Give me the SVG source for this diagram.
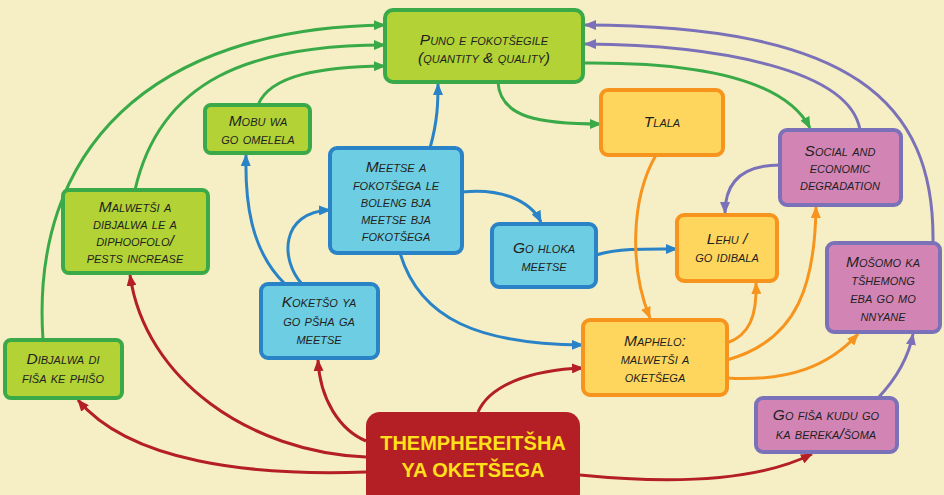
<svg xmlns="http://www.w3.org/2000/svg" width="944" height="495" viewBox="0 0 944 495">
<defs>
<style>
.t{font-family:"Liberation Sans",Arial,sans-serif;font-size:15.5px;font-variant:small-caps;fill:#231f20;text-anchor:middle;font-style:italic}
.g rect{fill:#b2d235;stroke:#3aaa48;stroke-width:4}
.b rect{fill:#6ccde3;stroke:#2a83c6;stroke-width:4}
.o rect{fill:#fed65e;stroke:#f7941d;stroke-width:4}
.p rect{fill:#d285b5;stroke:#7b71b8;stroke-width:4}
.c rect{fill:#b31f24}
.ct{font-family:"Liberation Sans",Arial,sans-serif;font-size:20px;font-weight:bold;fill:#ffe01a;text-anchor:middle}
.cg{fill:none;stroke:#3aaa48;stroke-width:3}
.cb{fill:none;stroke:#2a83c6;stroke-width:3}
.co{fill:none;stroke:#f7941d;stroke-width:3}
.cp{fill:none;stroke:#7b71b8;stroke-width:3}
.cr{fill:none;stroke:#b31f24;stroke-width:3}
</style>
<marker id="ag" viewBox="0 0 12 10" refX="11" refY="5" markerWidth="12" markerHeight="10" markerUnits="userSpaceOnUse" orient="auto"><path d="M0,0L12,5L0,10z" fill="#3aaa48"/></marker>
<marker id="ab" viewBox="0 0 12 10" refX="11" refY="5" markerWidth="12" markerHeight="10" markerUnits="userSpaceOnUse" orient="auto"><path d="M0,0L12,5L0,10z" fill="#2a83c6"/></marker>
<marker id="ao" viewBox="0 0 12 10" refX="11" refY="5" markerWidth="12" markerHeight="10" markerUnits="userSpaceOnUse" orient="auto"><path d="M0,0L12,5L0,10z" fill="#f7941d"/></marker>
<marker id="ap" viewBox="0 0 12 10" refX="11" refY="5" markerWidth="12" markerHeight="10" markerUnits="userSpaceOnUse" orient="auto"><path d="M0,0L12,5L0,10z" fill="#7b71b8"/></marker>
<marker id="ar" viewBox="0 0 12 10" refX="11" refY="5" markerWidth="12" markerHeight="10" markerUnits="userSpaceOnUse" orient="auto"><path d="M0,0L12,5L0,10z" fill="#b31f24"/></marker>
</defs>
<rect width="944" height="495" fill="#f6efc5"/>
<g id="connectors">
<path class="cg" marker-end="url(#ag)" d="M43,340 C 30,150 150,28 385,25"/>
<path class="cg" marker-end="url(#ag)" d="M135,190 C 160,80 250,45 385,45"/>
<path class="cg" marker-end="url(#ag)" d="M258,105 C 270,75 320,67 385,66"/>
<path class="cg" marker-end="url(#ag)" d="M498,82 C 500,118 540,124 601,124"/>
<path class="cg" marker-end="url(#ag)" d="M583,63 C 700,62 785,80 810,128"/>
<path class="cb" marker-end="url(#ab)" d="M302,284 C 280,260 280,212 330,210"/>
<path class="cb" marker-end="url(#ab)" d="M285,284 C 250,250 245,200 246,155"/>
<path class="cb" marker-end="url(#ab)" d="M430,148 C 438,120 438,100 438,84"/>
<path class="cb" marker-end="url(#ab)" d="M462,192 C 500,188 530,200 541,222"/>
<path class="cb" marker-end="url(#ab)" d="M400,253 C 420,320 480,344 583,345"/>
<path class="cb" marker-end="url(#ab)" d="M596,255 C 620,248 650,249 677,249"/>
<path class="co" marker-end="url(#ao)" d="M656,155 C 630,200 630,270 650,318"/>
<path class="co" marker-end="url(#ao)" d="M727,343 C 750,335 757,315 756,283"/>
<path class="co" marker-end="url(#ao)" d="M727,360 C 800,340 815,280 816,207"/>
<path class="co" marker-end="url(#ao)" d="M727,378 C 790,382 830,365 858,334"/>
<path class="cp" marker-end="url(#ap)" d="M780,165 C 745,165 725,180 725,213"/>
<path class="cp" marker-end="url(#ap)" d="M860,130 C 850,70 720,45 585,44"/>
<path class="cp" marker-end="url(#ap)" d="M933,243 C 935,100 850,26 585,25"/>
<path class="cp" marker-end="url(#ap)" d="M878,398 C 895,380 908,360 913,334"/>
<path class="cr" marker-end="url(#ar)" d="M366,472 C 250,476 130,462 78,400"/>
<path class="cr" marker-end="url(#ar)" d="M366,457 C 250,452 145,380 130,275"/>
<path class="cr" marker-end="url(#ar)" d="M366,441 C 340,430 320,400 318,360"/>
<path class="cr" marker-end="url(#ar)" d="M478,412 C 490,385 530,370 583,368"/>
<path class="cr" marker-end="url(#ar)" d="M580,475 C 680,485 760,480 812,454"/>
</g>
<g id="n-puno" class="g"><rect x="385" y="10" width="198" height="72" rx="8"/><text class="t" x="484" y="45">Puno e fokotšegile</text><text class="t" x="484" y="63">(quantity &amp; quality)</text></g>
<g id="n-mobu" class="g"><rect x="205" y="105" width="105" height="48" rx="6"/><text class="t" x="258" y="126">Mobu wa</text><text class="t" x="258" y="144">go omelela</text></g>
<g id="n-malwetsi" class="g"><rect x="63" y="190" width="145" height="83" rx="6"/><text class="t" x="135" y="212">Malwetši a</text><text class="t" x="135" y="229">dibjalwa le a</text><text class="t" x="135" y="246">diphoofolo/</text><text class="t" x="135" y="263">pests increase</text></g>
<g id="n-dibjalwa" class="g"><rect x="5" y="340" width="117" height="58" rx="6"/><text class="t" x="63" y="364">Dibjalwa di</text><text class="t" x="63" y="383">fiša ke phišo</text></g>
<g id="n-meetse" class="b"><rect x="330" y="148" width="132" height="105" rx="7"/><text class="t" x="396" y="172">Meetse a</text><text class="t" x="396" y="190">fokotšega le</text><text class="t" x="396" y="207">boleng bja</text><text class="t" x="396" y="224">meetse bja</text><text class="t" x="396" y="241">fokotšega</text></g>
<g id="n-koketso" class="b"><rect x="261" y="284" width="117" height="74" rx="7"/><text class="t" x="319" y="307">Koketšo ya</text><text class="t" x="319" y="326">go pšha ga</text><text class="t" x="319" y="344">meetse</text></g>
<g id="n-hloka" class="b"><rect x="492" y="224" width="104" height="63" rx="7"/><text class="t" x="544" y="253">Go hloka</text><text class="t" x="544" y="271">meetse</text></g>
<g id="n-tlala" class="o"><rect x="601" y="90" width="122" height="65" rx="7"/><text class="t" x="662" y="127">Tlala</text></g>
<g id="n-lehu" class="o"><rect x="677" y="215" width="100" height="66" rx="7"/><text class="t" x="727" y="244">Lehu /</text><text class="t" x="727" y="262">go idibala</text></g>
<g id="n-maphelo" class="o"><rect x="583" y="320" width="144" height="75" rx="7"/><text class="t" x="655" y="346">Maphelo:</text><text class="t" x="655" y="364">malwetši a</text><text class="t" x="655" y="382">oketšega</text></g>
<g id="n-social" class="p"><rect x="780" y="130" width="121" height="75" rx="7"/><text class="t" x="840" y="156">Social and</text><text class="t" x="840" y="173">economic</text><text class="t" x="840" y="190">degradation</text></g>
<g id="n-mosomo" class="p"><rect x="827" y="243" width="113" height="89" rx="7"/><text class="t" x="883" y="267">Mošomo ka</text><text class="t" x="883" y="285">tšhemong</text><text class="t" x="883" y="303">eba go mo</text><text class="t" x="883" y="321">nnyane</text></g>
<g id="n-gofisa" class="p"><rect x="756" y="398" width="141" height="54" rx="7"/><text class="t" x="826" y="420">Go fiša kudu go</text><text class="t" x="826" y="439">ka bereka/šoma</text></g>
<g id="n-central" class="c"><rect x="366" y="412" width="214" height="95" rx="14"/><text class="ct" x="473" y="450">THEMPHEREITŠHA</text><text class="ct" x="473" y="477">YA OKETŠEGA</text></g>
</svg>
